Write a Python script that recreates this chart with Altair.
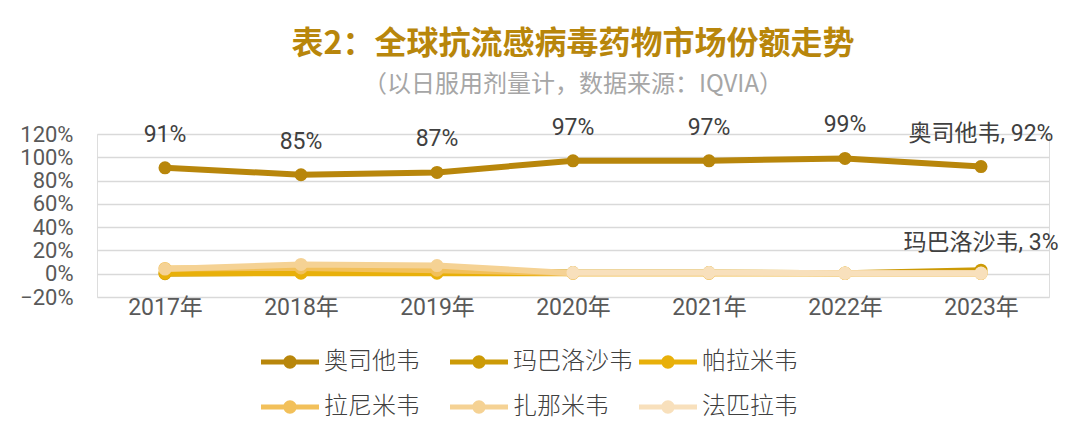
import altair as alt
import pandas as pd

years = ["2017年", "2018年", "2019年", "2020年", "2021年", "2022年", "2023年"]
series = ["奥司他韦", "玛巴洛沙韦", "帕拉米韦", "拉尼米韦", "扎那米韦", "法匹拉韦"]
colors = ["#B8860B", "#CC9A06", "#E8B00A", "#F2C05A", "#F5D294", "#F8E0BC"]

oseltamivir = [91, 85, 87, 97, 97, 99, 92]
baloxavir = [0, 1, 2, 1, 1, 0.5, 3]
peramivir = [0.5, 0.5, 0.5, 0.5, 0.5, 0.3, 0.3]
laninamivir = [4.5, 5, 3, 0.5, 0.5, 0.3, 0.3]
zanamivir = [4, 8, 7, 0.5, 0.5, 0.2, 0.2]
favipiravir = [None, None, None, 1, 1, 0.5, 0.5]

y_ticks = [-0.2, 0, 0.2, 0.4, 0.6, 0.8, 1.0, 1.2]

values = [oseltamivir, baloxavir, peramivir, laninamivir, zanamivir, favipiravir]
rows = []
for s, vals in zip(series, values):
    for i, (yr, v) in enumerate(zip(years, vals)):
        label = ""
        if s == "奥司他韦":
            label = f"{v:.0f}%" if i < len(years) - 1 else f"{s}, {v:.0f}%"
        elif s == "玛巴洛沙韦" and i == len(years) - 1:
            label = f"{s}, {v:.0f}%"
        rows.append({"year": yr, "series": s,
                     "share": (v / 100.0) if v is not None else None,
                     "label": label})
df = pd.DataFrame(rows)

FONT_NUM = "Roboto, Noto Sans CJK SC"
FONT_CJK = "Noto Sans CJK SC"

legend_symbol = ("M-1,-0.09 L1,-0.09 L1,0.09 L-1,0.09 Z "
                 "M0.23,0 A0.23,0.23 0 1,1 -0.23,0 A0.23,0.23 0 1,1 0.23,0 Z")

x_enc = alt.X("year:N", sort=years,
              scale=alt.Scale(paddingInner=0, paddingOuter=0),
              axis=alt.Axis(title=None, labelAngle=0, domain=False, ticks=False,
                            grid=False, labelFont=FONT_NUM, labelFontSize=23,
                            labelColor="#595959", labelPadding=-1))
y_enc = alt.Y("share:Q",
              scale=alt.Scale(domain=[-0.2, 1.2], nice=False, zero=False),
              axis=alt.Axis(title=None, values=y_ticks, format=".0%", domain=False,
                            ticks=False, gridColor="#D9D9D9", gridWidth=1.5,
                            labelFont=FONT_NUM, labelFontSize=22,
                            labelColor="#595959", labelPadding=24))

color_scale = alt.Scale(domain=series, range=colors)
legend = alt.Legend(
    title=None, orient="none", legendX=164, legendY=199,
    direction="horizontal", columns=3, gridAlign="all",
    symbolType=legend_symbol, symbolSize=3364,
    symbolStrokeWidth=0, symbolOpacity=1,
    labelFont=FONT_CJK, labelFontSize=24, labelFontWeight=300,
    labelColor="#404040", labelOffset=5,
    columnPadding=6, rowPadding=4, padding=0,
    labelLimit=300)

base = alt.Chart(df)
layers = []
for s, c in zip(series, colors):
    sub = base.transform_filter(alt.datum.series == s)
    line = sub.mark_line(strokeWidth=6, color=c).encode(x=x_enc, y=y_enc)
    pts = sub.mark_point(filled=True, size=170, opacity=1).encode(
        x=x_enc, y=y_enc,
        color=alt.Color("series:N", scale=color_scale, legend=legend))
    layers += [line, pts]

labels_main = base.transform_filter(
    (alt.datum.series == "奥司他韦")).mark_text(
    font=FONT_NUM, fontSize=23, color="#404040", dy=-33, baseline="middle"
).encode(x=x_enc, y=y_enc, text="label:N")

labels_balox = base.transform_filter(
    (alt.datum.series == "玛巴洛沙韦") & (alt.datum.label != "")).mark_text(
    font=FONT_NUM, fontSize=23, color="#404040", dy=-27, baseline="middle"
).encode(x=x_enc, y=y_enc, text="label:N")

chart = alt.layer(*layers, labels_main, labels_balox).properties(
    width=952, height=163,
    autosize=alt.AutoSizeParams(type="none"),
    padding={"left": 89, "top": 126, "right": 23, "bottom": 138},
    title=alt.TitleParams(
        text="表2：全球抗流感病毒药物市场份额走势",
        subtitle="（以日服用剂量计，数据来源：IQVIA）",
        anchor="middle", font=FONT_CJK, fontSize=32, fontWeight="bold",
        color="#B8860B", subtitleFont=FONT_CJK, subtitleFontSize=24,
        subtitleColor="#A6A6A6", subtitlePadding=12, offset=16),
).configure_view(stroke=None).configure(background="white")

chart.save("out.html", embed_options={"renderer": "svg", "actions": False})
